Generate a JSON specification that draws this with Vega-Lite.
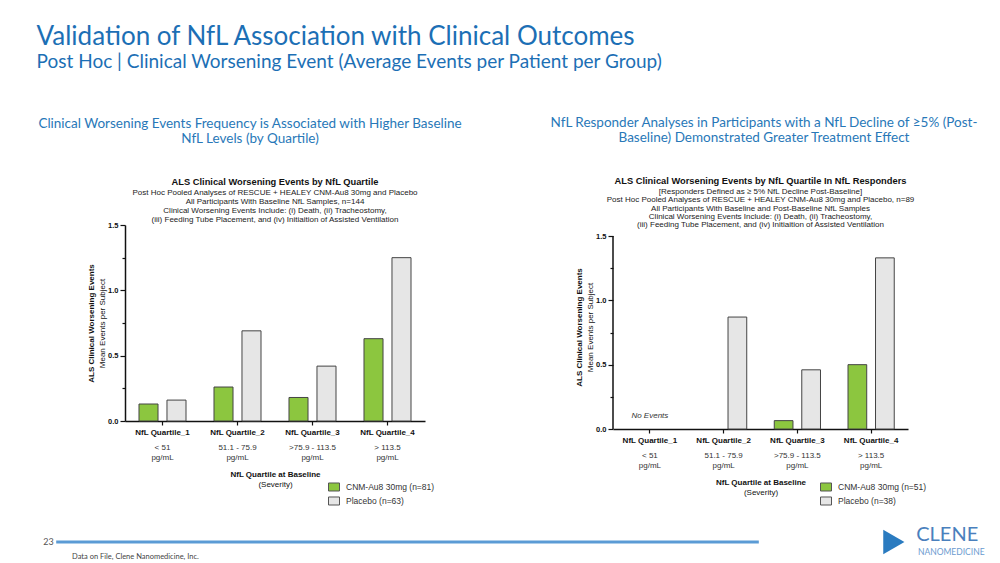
{
  "$schema": "https://vega.github.io/schema/vega-lite/v6.json",
  "background": "white",
  "padding": {"left": 36, "top": 24, "right": 0, "bottom": 0},
  "config": {
    "view": {"stroke": null},
    "font": "Liberation Sans",
    "axis": {"grid": false, "domainColor": "#111", "domainWidth": 1.5, "tickColor": "#111", "tickWidth": 1.2, "labelFont": "Liberation Sans", "labelFontWeight": "bold", "labelFontSize": 7.5, "labelColor": "#111", "titleFont": "Liberation Sans", "titleFontSize": 8, "titleColor": "#111"}
  },
  "datasets": {
    "left": [
      {"quartile": "NfL Quartile_1", "group": "CNM-Au8 30mg (n=81)", "value": 0.13},
      {"quartile": "NfL Quartile_1", "group": "Placebo (n=63)", "value": 0.16},
      {"quartile": "NfL Quartile_2", "group": "CNM-Au8 30mg (n=81)", "value": 0.26},
      {"quartile": "NfL Quartile_2", "group": "Placebo (n=63)", "value": 0.69},
      {"quartile": "NfL Quartile_3", "group": "CNM-Au8 30mg (n=81)", "value": 0.18},
      {"quartile": "NfL Quartile_3", "group": "Placebo (n=63)", "value": 0.42},
      {"quartile": "NfL Quartile_4", "group": "CNM-Au8 30mg (n=81)", "value": 0.63},
      {"quartile": "NfL Quartile_4", "group": "Placebo (n=63)", "value": 1.25}
    ],
    "right": [
      {"quartile": "NfL Quartile_2", "group": "Placebo (n=38)", "value": 0.87},
      {"quartile": "NfL Quartile_3", "group": "CNM-Au8 30mg (n=51)", "value": 0.065},
      {"quartile": "NfL Quartile_3", "group": "Placebo (n=38)", "value": 0.46},
      {"quartile": "NfL Quartile_4", "group": "CNM-Au8 30mg (n=51)", "value": 0.5},
      {"quartile": "NfL Quartile_4", "group": "Placebo (n=38)", "value": 1.33}
    ],
    "ranges": [
      {"quartile": "NfL Quartile_1", "range": "< 51\npg/mL"},
      {"quartile": "NfL Quartile_2", "range": "51.1 - 75.9\npg/mL"},
      {"quartile": "NfL Quartile_3", "range": ">75.9 - 113.5\npg/mL"},
      {"quartile": "NfL Quartile_4", "range": "> 113.5\npg/mL"}
    ],
    "notes": [
      {"quartile": "NfL Quartile_1", "note": "No Events", "value": 0.1}
    ],
    "footer": [
      {"item": "page", "label": "23"}
    ]
  },
  "title": {
    "text": "Validation of NfL Association with Clinical Outcomes",
    "subtitle": "Post Hoc | Clinical Worsening Event (Average Events per Patient per Group)",
    "anchor": "start", "dx": -1,
    "font": "Lato", "fontSize": 26, "fontWeight": "normal", "color": "#1c6fb5",
    "subtitleFont": "Lato", "subtitleFontSize": 19, "subtitleColor": "#1c6fb5", "subtitlePadding": 3,
    "offset": 44
  },
  "resolve": {"scale": {"color": "independent", "xOffset": "independent"}, "legend": {"color": "independent"}},
  "vconcat": [
    {
      "resolve": {"scale": {"color": "independent", "xOffset": "independent"}, "legend": {"color": "independent"}},
      "hconcat": [
        {
          "title": {"text": ["Clinical Worsening Events Frequency is Associated with Higher Baseline", "NfL Levels (by Quartile)"], "font": "Lato", "fontSize": 13.5, "fontWeight": "normal", "color": "#2878b8", "lineHeight": 15, "offset": 32, "anchor": "middle", "dx": -11},
          "resolve": {"scale": {"color": "independent", "xOffset": "independent"}, "legend": {"color": "independent"}},
          "vconcat": [
            {
              "width": 300, "height": 196,
              "title": {
                "text": "ALS Clinical Worsening Events by NfL Quartile",
                "subtitle": ["Post Hoc Pooled Analyses of RESCUE + HEALEY CNM-Au8 30mg and Placebo", "All Participants With Baseline NfL Samples, n=144", "Clinical Worsening Events Include: (i) Death, (ii) Tracheostomy,", "(iii) Feeding Tube Placement, and (iv) Initiaition of Assisted Ventilation"],
                "font": "Liberation Sans", "fontSize": 9.3, "fontWeight": "bold", "color": "#111",
                "subtitleFont": "Liberation Sans", "subtitleFontSize": 8, "subtitleLineHeight": 9, "subtitleColor": "#222", "subtitlePadding": 2, "offset": -3
              },
              "layer": [
                {
                  "data": {"name": "left"},
                  "mark": {"type": "bar", "stroke": "#444", "strokeWidth": 1},
                  "encoding": {
                    "x": {"field": "quartile", "type": "nominal", "scale": {"domain": ["NfL Quartile_1", "NfL Quartile_2", "NfL Quartile_3", "NfL Quartile_4"], "paddingInner": 0, "paddingOuter": 0},
                      "axis": {"orient": "bottom", "title": "NfL Quartile at Baseline", "titleFontWeight": "bold", "titlePadding": 34, "labelAngle": 0, "labelPadding": 3, "tickSize": 4, "labelFontSize": 8}},
                    "xOffset": {"field": "group", "type": "nominal", "scale": {"domain": ["CNM-Au8 30mg (n=81)", "Placebo (n=63)"], "paddingInner": 0.32, "paddingOuter": 0.5}},
                    "y": {"field": "value", "type": "quantitative", "scale": {"domain": [0, 1.5], "nice": false},
                      "axis": {"orient": "left", "title": "Mean Events per Subject", "titleFontWeight": "normal", "titlePadding": 1, "values": [0, 0.25, 0.5, 0.75, 1, 1.25, 1.5], "labelExpr": "datum.value % 0.5 === 0 ? format(datum.value, '.1f') : ''", "labelOverlap": false, "tickSize": {"condition": {"test": "datum.value % 0.5 === 0", "value": 5}, "value": 3}}},
                    "color": {"field": "group", "type": "nominal", "scale": {"domain": ["CNM-Au8 30mg (n=81)", "Placebo (n=63)"], "range": ["#8cc63f", "#e6e6e6"]},
                      "legend": {"title": null, "orient": "none", "legendX": 203, "legendY": 256, "symbolType": "M-1,-0.73H1V0.73H-1Z", "symbolSize": 121, "symbolStrokeColor": "#555", "symbolStrokeWidth": 1, "labelFont": "Liberation Sans", "labelFontSize": 8.5, "labelColor": "#333", "labelOffset": 6, "rowPadding": 0}}
                  }
                },
                {
                  "data": {"name": "ranges"},
                  "mark": {"type": "text", "baseline": "middle", "dy": 27, "lineBreak": "\n", "lineHeight": 10, "fontSize": 8, "color": "#333", "font": "Liberation Sans"},
                  "encoding": {
                    "x": {"field": "quartile", "type": "nominal", "axis": {"orient": "bottom", "offset": 59, "title": "(Severity)", "titleFontWeight": "normal", "titlePadding": 0, "labels": false, "ticks": false, "domain": false}},
                    "y": {"datum": 0, "type": "quantitative", "axis": {"orient": "left", "offset": 28, "title": "ALS Clinical Worsening Events", "titleFontWeight": "bold", "titlePadding": 2, "labels": false, "ticks": false, "domain": false}},
                    "text": {"field": "range"}
                  }
                }
              ],
              "resolve": {"axis": {"x": "independent", "y": "independent"}}
            }
          ]
        },
        {
          "title": {"text": ["NfL Responder Analyses in Participants with a NfL Decline of ≥5% (Post-", "Baseline) Demonstrated Greater Treatment Effect"], "font": "Lato", "fontSize": 13.5, "fontWeight": "normal", "color": "#2878b8", "lineHeight": 15, "offset": 32, "anchor": "middle", "dx": 13},
          "resolve": {"scale": {"color": "independent", "xOffset": "independent"}, "legend": {"color": "independent"}},
          "vconcat": [
            {
              "width": 295, "height": 204,
              "title": {
                "text": "ALS Clinical Worsening Events by NfL Quartile In NfL Responders",
                "subtitle": ["[Responders Defined as ≥ 5% NfL Decline Post-Baseline]", "Post Hoc Pooled Analyses of RESCUE + HEALEY CNM-Au8 30mg and Placebo, n=89", "All Participants With Baseline and Post-Baseline NfL Samples", "Clinical Worsening Events Include: (i) Death, (ii) Tracheostomy,", "(iii) Feeding Tube Placement, and (iv) Initiaition of Assisted Ventilation"],
                "font": "Liberation Sans", "fontSize": 9.3, "fontWeight": "bold", "color": "#111",
                "subtitleFont": "Liberation Sans", "subtitleFontSize": 8, "subtitleLineHeight": 8.2, "subtitleColor": "#222", "subtitlePadding": 2, "offset": -4
              },
              "layer": [
                {
                  "data": {"name": "right"},
                  "mark": {"type": "bar", "stroke": "#444", "strokeWidth": 1},
                  "encoding": {
                    "x": {"field": "quartile", "type": "nominal", "scale": {"domain": ["NfL Quartile_1", "NfL Quartile_2", "NfL Quartile_3", "NfL Quartile_4"], "paddingInner": 0, "paddingOuter": 0},
                      "axis": {"orient": "bottom", "title": "NfL Quartile at Baseline", "titleFontWeight": "bold", "titlePadding": 34, "labelAngle": 0, "labelPadding": 3, "tickSize": 4, "labelFontSize": 8}},
                    "xOffset": {"field": "group", "type": "nominal", "scale": {"domain": ["CNM-Au8 30mg (n=51)", "Placebo (n=38)"], "paddingInner": 0.32, "paddingOuter": 0.5}},
                    "y": {"field": "value", "type": "quantitative", "scale": {"domain": [0, 1.5855], "nice": false},
                      "axis": {"orient": "left", "domain": false, "title": "Mean Events per Subject", "titleFontWeight": "normal", "titlePadding": 1, "values": [0, 0.25, 0.5, 0.75, 1, 1.25, 1.5], "labelExpr": "datum.value % 0.5 === 0 ? format(datum.value, '.1f') : ''", "labelOverlap": false, "tickSize": {"condition": {"test": "datum.value % 0.5 === 0", "value": 5}, "value": 3}}},
                    "color": {"field": "group", "type": "nominal", "scale": {"domain": ["CNM-Au8 30mg (n=51)", "Placebo (n=38)"], "range": ["#8cc63f", "#e6e6e6"]},
                      "legend": {"title": null, "orient": "none", "legendX": 207, "legendY": 256, "symbolType": "M-1,-0.73H1V0.73H-1Z", "symbolSize": 121, "symbolStrokeColor": "#555", "symbolStrokeWidth": 1, "labelFont": "Liberation Sans", "labelFontSize": 8.5, "labelColor": "#333", "labelOffset": 6, "rowPadding": 0}}
                  }
                },
                {
                  "data": {"name": "ranges"},
                  "mark": {"type": "text", "baseline": "middle", "dy": 27, "lineBreak": "\n", "lineHeight": 10, "fontSize": 8, "color": "#333", "font": "Liberation Sans"},
                  "encoding": {
                    "x": {"field": "quartile", "type": "nominal", "axis": {"orient": "bottom", "offset": 59, "title": "(Severity)", "titleFontWeight": "normal", "titlePadding": 0, "labels": false, "ticks": false, "domain": false}},
                    "y": {"datum": 0, "type": "quantitative", "axis": {"orient": "left", "offset": 28, "title": "ALS Clinical Worsening Events", "titleFontWeight": "bold", "titlePadding": 2, "labels": false, "ticks": false, "domain": false}},
                    "text": {"field": "range"}
                  }
                },
                {
                  "data": {"name": "notes"},
                  "mark": {"type": "text", "baseline": "middle", "fontSize": 8, "fontStyle": "italic", "color": "#333", "font": "Liberation Sans"},
                  "encoding": {
                    "x": {"field": "quartile", "type": "nominal", "axis": null},
                    "y": {"field": "value", "type": "quantitative", "axis": null},
                    "text": {"field": "note"}
                  }
                },
                {
                  "data": {"values": [{"axis": "y"}]},
                  "mark": {"type": "rule", "color": "#111", "strokeWidth": 1.5},
                  "encoding": {"x": {"value": 0}, "y": {"datum": 0, "type": "quantitative", "axis": null}, "y2": {"datum": 1.5}}
                }
              ],
              "resolve": {"axis": {"x": "independent", "y": "independent"}}
            }
          ]
        }
      ],
      "spacing": 86
    },
    {
      "width": 860, "height": 24,
      "data": {"name": "footer"},
      "layer": [
        {
          "mark": {"type": "rule", "color": "#5b9bd5", "strokeWidth": 3},
          "encoding": {"x": {"datum": -8.0, "type": "quantitative", "scale": {"domain": [0, 100]}, "axis": null}, "x2": {"datum": 73.7}, "y": {"datum": 0, "type": "quantitative", "scale": {"domain": [-1, 1]}, "axis": null}}
        },
        {
          "mark": {"type": "text", "fontSize": 9, "font": "Lato", "color": "#555", "baseline": "middle", "align": "center"},
          "encoding": {"x": {"datum": -8.9, "type": "quantitative"}, "y": {"datum": 0, "type": "quantitative"}, "text": {"value": "23"}}
        },
        {
          "mark": {"type": "text", "fontSize": 7.5, "font": "Lato", "color": "#444", "baseline": "middle", "align": "left"},
          "encoding": {"x": {"datum": -6.16, "type": "quantitative"}, "y": {"datum": -1.25, "type": "quantitative"}, "text": {"value": "Data on File, Clene Nanomedicine, Inc."}}
        },
        {
          "mark": {"type": "point", "shape": "triangle-right", "filled": true, "color": "#2a7bc0", "size": 600, "opacity": 1},
          "encoding": {"x": {"datum": 89.4, "type": "quantitative"}, "y": {"datum": 0.0, "type": "quantitative"}}
        },
        {
          "mark": {"type": "text", "fontSize": 20, "font": "Lato", "color": "#4a80bd", "baseline": "middle", "align": "left"},
          "encoding": {"x": {"datum": 92.0, "type": "quantitative"}, "y": {"datum": 0.6, "type": "quantitative"}, "text": {"value": "CLENE"}}
        },
        {
          "mark": {"type": "text", "fontSize": 8.5, "font": "Lato", "color": "#6c9bd0", "baseline": "middle", "align": "left"},
          "encoding": {"x": {"datum": 92.2, "type": "quantitative"}, "y": {"datum": -0.85, "type": "quantitative"}, "text": {"value": "NANOMEDICINE"}}
        }
      ]
    }
  ],
  "spacing": 16
}
